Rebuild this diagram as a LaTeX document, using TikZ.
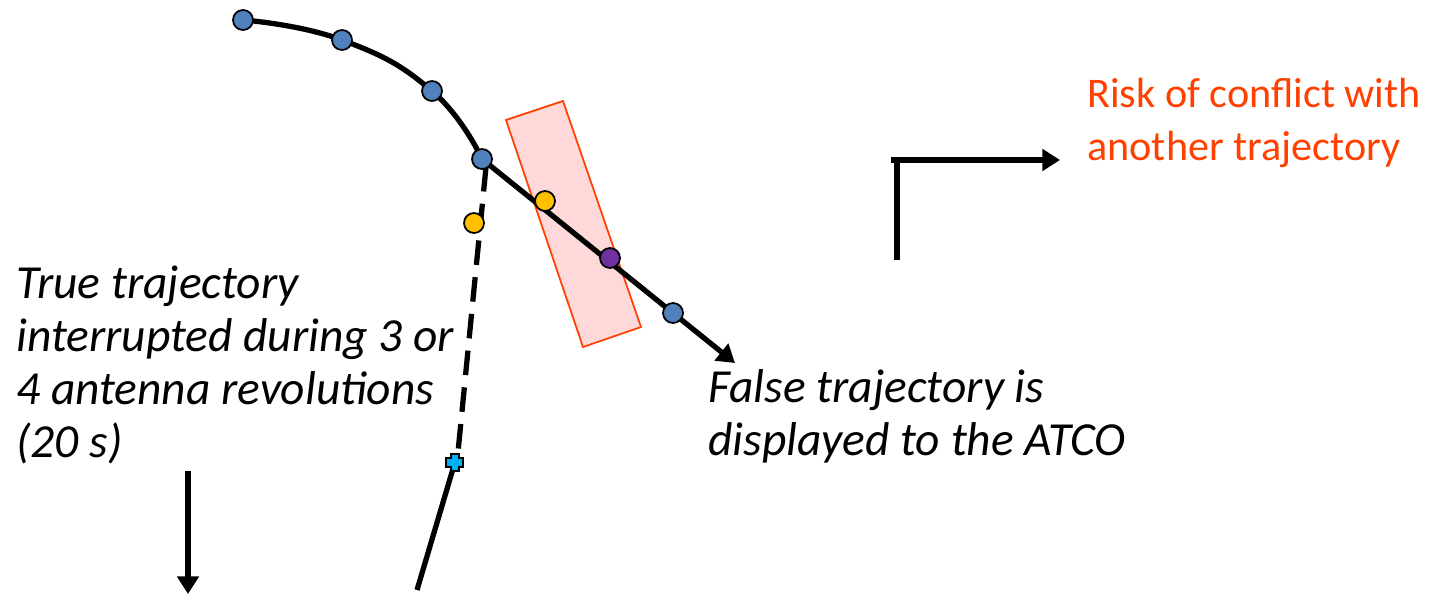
\documentclass[tikz,border=0pt]{standalone}
\usepackage{fontspec}
\setmainfont{Carlito}
\usetikzlibrary{arrows.meta}
\definecolor{dotblue}{HTML}{4F81BD}
\definecolor{dotyellow}{HTML}{FFC000}
\definecolor{dotpurple}{HTML}{7030A0}
\definecolor{plusblue}{HTML}{00B0F0}
\definecolor{riskred}{HTML}{FF4000}
\definecolor{zonepink}{HTML}{FFD9D9}
\begin{document}
\begin{tikzpicture}[x=0.02cm,y=-0.02cm,>={Triangle[length=10pt,width=12pt]},
    track/.style={line width=3pt},
    radar/.style={circle,draw,line width=1pt,inner sep=0pt,minimum size=0.4cm},
    label text/.style={font=\fontsize{27}{30}\selectfont\itshape,align=left,inner sep=0pt,anchor=north west}]

            \useasboundingbox (0,0) rectangle (1429,595);

            % plot points
            \coordinate (p1) at (243,20);
            \coordinate (p2) at (342,40);
            \coordinate (p3) at (432,91);
            \coordinate (p4) at (482,159);
            \coordinate (f1) at (545,201);
            \coordinate (f2) at (610,258);
            \coordinate (f3) at (673,313);
            \coordinate (fend) at (735,363);
            \coordinate (y0) at (474,223);
            \coordinate (dtop) at (486,167);
            \coordinate (dbot) at (458,452);
            \coordinate (pl) at (455,462);
            \coordinate (tend) at (417,590);

            % conflict zone
            \draw[riskred,fill=zonepink,line width=1pt] (506,120) -- (563,101) -- (641,327) -- (583,347) -- cycle;

            % trajectories
            \draw[track] plot[smooth,tension=0.8] coordinates {(p1) (p2) (p3) (p4)};
            \draw[track,->] (p4) -- (fend);
            \draw[track,dash pattern=on 14pt off 7pt] (dtop) -- (dbot);
            \draw[track] (pl) -- (tend);

            % radar plots
            \foreach \p in {p1,p2,p3,p4,f3}
                \node[radar,fill=dotblue] at (\p) {};
            \node[radar,fill=dotyellow] (yf) at (f1) {};
            \node[radar,fill=dotpurple] (pf) at (f2) {};
            \node[radar,fill=dotyellow] (ys) at (y0) {};
            \draw[fill=plusblue,line width=1pt] ([shift={(-4,-8)}]pl) -- ++(8,0) -- ++(0,4) -- ++(4,0) -- ++(0,9) -- ++(-4,0) -- ++(0,4) -- ++(-8,0) -- ++(0,-4) -- ++(-5,0) -- ++(0,-9) -- ++(5,0) -- cycle;

            % arrows
            \coordinate (l1) at (897,260);
            \coordinate (l2) at (897,157);
            \coordinate (l3) at (891,160);
            \coordinate (l4) at (1060,160);
            \draw[track] (l1) -- (l2);
            \draw[track,->] (l3) -- (l4);
            \coordinate (a1) at (188,471);
            \coordinate (a2) at (188,594);
            \draw[track,->] (a1) -- (a2);

            % texts
            \node[label text] (true) at (16,266) {True trajectory\\interrupted during 3 or\\4 antenna revolutions\\(20 s)};
            \node[label text] (false) at (708,369) {False trajectory is\\displayed to the ATCO};
            \node[label text,font=\fontsize{24}{30}\selectfont,text=riskred] (risk) at (1087,78) {Risk of conflict with\\another trajectory};

        \end{tikzpicture}
\end{document}
